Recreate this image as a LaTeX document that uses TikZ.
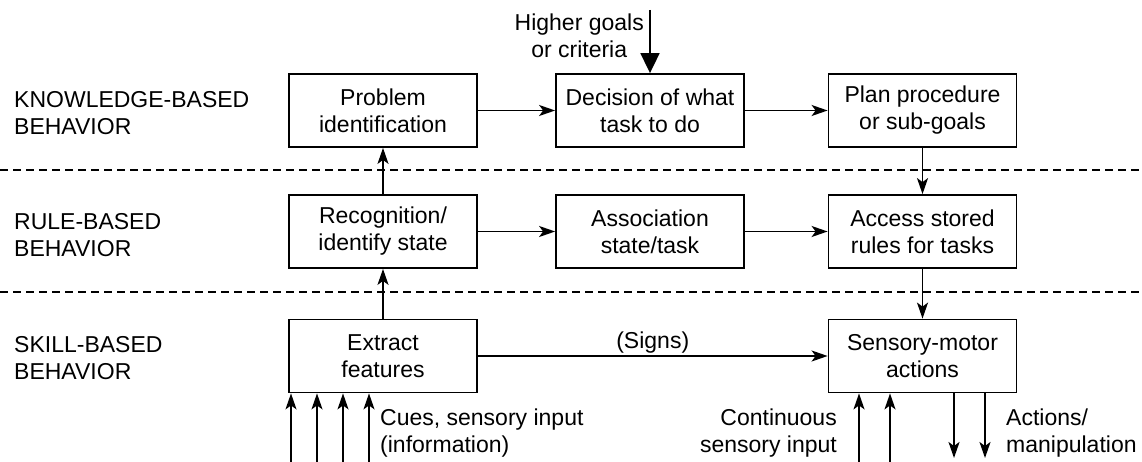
\documentclass[tikz,border=0pt]{standalone}
\usepackage{fontspec}
\setmainfont{Liberation Sans}
\usetikzlibrary{arrows.meta,positioning}

\begin{document}
\begin{tikzpicture}[x=1pt,y=-1pt,
  font=\fontsize{23}{27}\selectfont,
  >={Stealth[length=16pt,width=11pt,inset=4pt]},
  stage/.style={draw,line width=1.8pt,minimum width=188pt,minimum height=73pt,inner sep=0pt,align=center},
  level/.style={anchor=west,align=left,inner sep=0pt},
  flow/.style={->,line width=1.8pt},
  divider/.style={line width=1.5pt,dash pattern=on 8pt off 5pt}]
\useasboundingbox (0,0) rectangle (1142,462);

% levels
\node[level] (know) at (14,113) {KNOWLEDGE-BASED\\BEHAVIOR};
\node[level] (rule) at (14,235) {RULE-BASED\\BEHAVIOR};
\node[level] (skill) at (14,358) {SKILL-BASED\\BEHAVIOR};
\draw[divider] (0,170) -- (1142,170);
\draw[divider] (0,292) -- (1142,292);

% boxes
\node[stage] (prob) at (383,110.5) {Problem\\identification};
\node[stage] (dec) at (650,110.5) {Decision of what\\task to do};
\node[stage] (plan) at (922.5,110.5) {Plan procedure\\or sub-goals};
\node[stage] (recog) at (383,231.5) {Recognition/\\identify state};
\node[stage] (assoc) at (650,231.5) {Association\\state/task};
\node[stage] (access) at (922.5,231.5) {Access stored\\rules for tasks};
\node[stage] (extract) at (383,356) {Extract\\features};
\node[stage] (motor) at (922.5,356) {Sensory-motor\\actions};

% higher goals
\node[anchor=east,align=center,inner sep=0pt] (goals) at (644,36) {Higher goals\\or criteria};
\coordinate (top) at (dec.north |- 0,10);
\draw[line width=1.8pt,-{Triangle[length=20pt,width=19pt]}] (top) -- (dec.north);

\draw[flow] (prob) -- (dec);
\draw[flow] (dec) -- (plan);
\draw[flow] (recog) -- (assoc);
\draw[flow] (assoc) -- (access);
\draw[flow] (extract) -- node[above=2pt,inner sep=0pt] (signs) {(Signs)} (motor);
\draw[flow] (recog) -- (prob);
\draw[flow] (extract) -- (recog);
\draw[flow] (plan) -- (access);
\draw[flow] (access) -- (motor);

% inputs and outputs
\foreach \i/\x in {1/291,2/317,3/343,4/369}{
  \coordinate (cue\i) at (\x,462);
  \draw[flow] (cue\i) -- (cue\i |- extract.south);
}
\foreach \i/\x in {1/859,2/890}{
  \coordinate (sense\i) at (\x,462);
  \draw[flow] (sense\i) -- (sense\i |- motor.south);
}
\foreach \i/\x in {1/954,2/985}{
  \coordinate (act\i) at (\x,458);
  \draw[flow] (act\i |- motor.south) -- (act\i);
}
\node[level] (cues) at (380,433) {Cues, sensory input\\(information)};
\node[anchor=east,align=right,inner sep=0pt] (cont) at (837,433) {Continuous\\sensory input};
\node[level] (actions) at (1006,433) {Actions/\\manipulation};
\end{tikzpicture}
\end{document}
